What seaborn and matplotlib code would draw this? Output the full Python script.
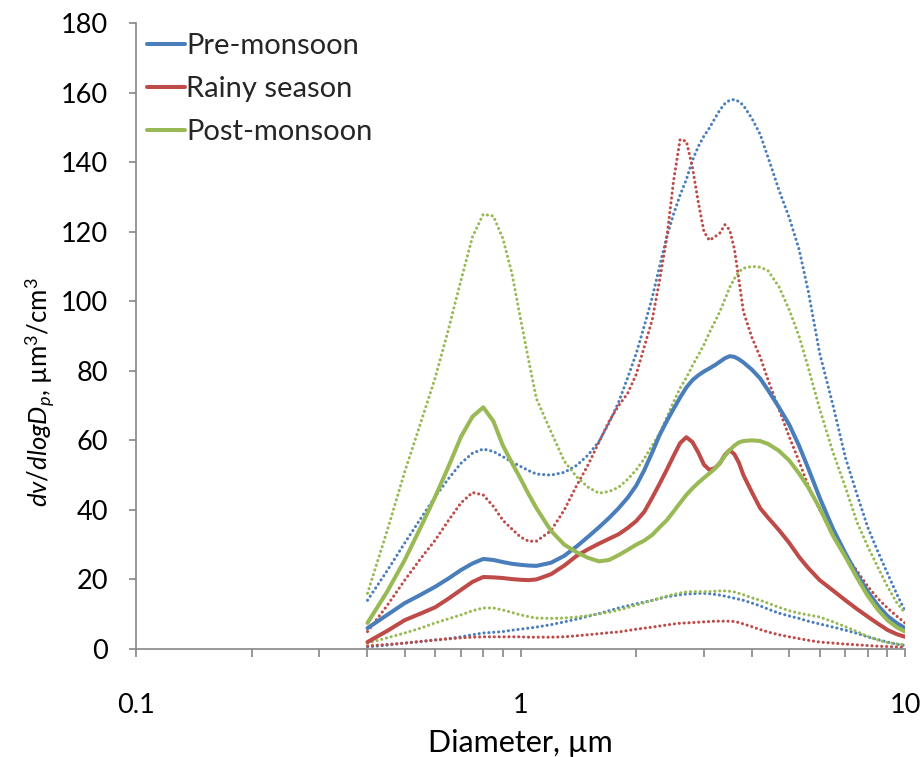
import matplotlib
matplotlib.use("Agg")
import matplotlib.pyplot as plt
import pandas as pd
import seaborn as sns
from matplotlib.ticker import FixedLocator, FixedFormatter, LogLocator, NullFormatter

# Particle diameter (µm) at which each size distribution is tabulated
diameter = [0.4, 0.45, 0.5, 0.55, 0.6, 0.65, 0.7, 0.75, 0.8, 0.85, 0.9, 0.95,
            1.0, 1.05, 1.1,
            1.2, 1.3, 1.4, 1.5, 1.6, 1.7, 1.8, 1.9, 2.0,
            2.1, 2.2, 2.3, 2.4, 2.5, 2.6, 2.7, 2.8, 2.9, 3.0, 3.1, 3.2, 3.3, 3.4, 3.5, 3.6, 3.7, 3.8,
            4.0, 4.2, 4.4, 4.7, 5.0, 5.3, 5.6, 6.0, 6.5, 7.0, 7.5, 8.0, 8.5, 9.0, 9.5, 10.0]

# dv/dlogDp (µm³/cm³): seasonal mean with upper and lower envelopes
pre_mean = [6, 9.8, 13.2, 15.6, 17.9, 20.3, 22.7, 24.6, 25.9, 25.6, 25.0, 24.5,
            24.2, 24.0, 23.9,
            24.8, 26.8, 29.5, 32.3, 35.0, 37.7, 40.5, 43.5, 47.0,
            51.5, 56.5, 61.5, 65.5, 69.0, 72.3, 75.2, 77.3, 78.7, 79.8, 80.7, 81.6, 82.6, 83.6, 84.2, 84.0, 83.3, 82.4,
            80.3, 77.8, 74.5, 69.5, 64.5, 58.5, 52.0, 43.5, 34.5, 27.5, 21.5, 16.5, 12.5, 9.5, 7.5, 6.0]
pre_upper = [14, 22.5, 30.5, 37.5, 43.8, 49.0, 53.4, 56.3, 57.5, 56.8, 55.3, 53.8,
             52.5, 51.3, 50.3,
             50.0, 50.8, 52.8, 55.8, 59.7, 65.0, 71.0, 78.0, 85.0,
             93.0, 101.0, 110.0, 118.5, 125.0, 130.5, 135.0, 140.5, 144.5, 147.5, 149.8, 152.5, 155.0, 156.8, 157.8, 158.0, 157.4, 156.3,
             152.5, 148.0, 141.5, 132.0, 124.0, 115.0, 103.0, 85.0, 70.0, 55.0, 44.5, 35.0, 28.0, 21.8, 16.0, 11.0]
pre_lower = [0.6, 1.1, 1.7, 2.1, 2.6, 3.0, 3.5, 4.1, 4.6, 4.8, 5.0, 5.4,
             5.7, 6.0, 6.3,
             7.0, 7.8, 8.6, 9.4, 10.2, 11.0, 11.8, 12.4, 13.0,
             13.5, 14.0, 14.5, 15.0, 15.3, 15.6, 15.8, 15.9, 16.0, 16.0, 15.9, 15.7, 15.5, 15.2, 14.9, 14.6, 14.3, 14.0,
             13.2, 12.4, 11.5, 10.3, 9.5, 8.8, 8.0, 7.2, 6.3, 5.4, 4.5, 3.5, 2.7, 2.0, 1.4, 1.0]

rainy_mean = [2.0, 5.2, 8.3, 10.2, 12.0, 14.5, 17.0, 19.3, 20.7, 20.6, 20.4, 20.1,
              19.9, 19.8, 20.0,
              21.5, 24.0, 26.8, 28.7, 30.3, 31.7, 33.0, 34.8, 36.8,
              39.5, 43.5, 47.5, 51.5, 55.5, 59.2, 60.9, 59.5, 56.5, 53.0, 51.5, 52.0, 53.4, 55.8, 57.2, 56.0, 53.5, 50.0,
              45.0, 40.5, 37.8, 34.2, 30.5, 26.5, 23.3, 19.8, 16.8, 14.0, 11.5, 9.3, 7.3, 5.5, 4.3, 3.5]
rainy_upper = [5.0, 12.5, 19.8, 26.0, 31.3, 37.0, 42.0, 45.0, 44.3, 41.0, 37.0, 34.5,
               32.2, 31.0, 31.0,
               34.0, 40.0, 47.0, 53.0, 59.5, 65.5, 70.0, 73.5, 79.0,
               87.0, 94.6, 106.0, 118.0, 134.5, 146.5, 146.0, 138.5, 128.5, 120.0, 117.5, 118.5, 119.6, 122.0, 120.5, 115.0, 106.0, 97.0,
               89.5, 84.0, 77.5, 69.0, 61.0, 54.0, 47.0, 40.0, 33.0, 27.0, 22.5, 18.0, 14.5, 11.8, 9.5, 7.5]
rainy_lower = [0.9, 1.3, 1.7, 2.2, 2.6, 2.9, 3.2, 3.4, 3.5, 3.5, 3.5, 3.5,
               3.5, 3.4, 3.4,
               3.4, 3.5, 3.8, 4.1, 4.4, 4.7, 4.9, 5.3, 5.7,
               6.0, 6.3, 6.6, 6.9, 7.2, 7.4, 7.5, 7.6, 7.7, 7.8, 7.9, 8.0, 8.0, 8.0, 8.0, 7.9, 7.6, 7.2,
               6.4, 5.6, 4.9, 4.1, 3.5, 3.0, 2.5, 2.0, 1.7, 1.4, 1.2, 1.0, 0.8, 0.7, 0.6, 0.5]

post_mean = [7.5, 16.5, 25.6, 35.0, 43.8, 52.5, 61.0, 66.8, 69.5, 65.5, 58.5, 53.5,
             49.0, 44.5, 40.5,
             34.0, 30.0, 27.8, 26.2, 25.2, 25.6, 27.0, 28.5, 30.0,
             31.2, 32.8, 35.0, 37.0, 39.5, 42.0, 44.3, 46.2, 47.8, 49.2, 50.5, 51.8, 53.5, 55.5, 57.2, 58.5, 59.4, 59.8,
             60.0, 59.8, 59.0, 57.0, 54.2, 50.5, 46.5, 40.5, 32.5, 26.5, 20.5, 15.3, 11.3, 8.3, 6.3, 5.0]
post_upper = [16.0, 34.0, 51.0, 65.0, 78.0, 92.0, 106.0, 118.5, 125.0, 124.5, 118.0, 108.0,
              95.0, 83.0, 72.0,
              62.5, 54.0, 49.5, 46.5, 44.8, 45.3, 46.5, 48.8, 51.5,
              54.8, 58.5, 62.0, 66.5, 71.0, 75.0, 78.0, 81.5, 84.5, 87.5, 91.0, 94.0, 97.0, 100.5, 104.0, 106.5, 108.5, 109.5,
              110.0, 109.8, 108.8, 104.2, 97.5, 90.0, 81.0, 69.0, 56.5, 46.5, 36.5, 29.5, 23.5, 18.0, 13.5, 10.3]
post_lower = [1.7, 3.2, 4.6, 6.0, 7.5, 8.7, 9.8, 11.0, 11.8, 11.8, 11.2, 10.5,
              9.8, 9.3, 8.9,
              8.8, 8.9, 9.2, 9.6, 10.1, 10.6, 11.2, 11.9, 12.6,
              13.3, 14.0, 14.6, 15.2, 15.7, 16.1, 16.4, 16.5, 16.5, 16.5, 16.5, 16.6, 16.7, 16.7, 16.6, 16.4, 16.0, 15.6,
              14.7, 14.0, 13.2, 12.0, 11.0, 10.3, 9.8, 9.2, 7.8, 6.4, 5.0, 3.6, 2.6, 1.9, 1.5, 1.2]

seasons = ["Pre-monsoon", "Rainy season", "Post-monsoon"]
colors = {"Pre-monsoon": "#4A7EBB", "Rainy season": "#BE4B48", "Post-monsoon": "#98B954"}
series = {
    "Pre-monsoon": (pre_mean, pre_upper, pre_lower),
    "Rainy season": (rainy_mean, rainy_upper, rainy_lower),
    "Post-monsoon": (post_mean, post_upper, post_lower),
}

rows = []
for s in seasons:
    for stat, vals in zip(["mean", "upper", "lower"], series[s]):
        for d, v in zip(diameter, vals):
            rows.append({"season": s, "stat": stat, "diameter": d, "dv": v})
df = pd.DataFrame(rows)

sns.set_theme(style="white")
plt.rcParams["font.family"] = ["Lato", "DejaVu Sans"]
plt.rcParams["mathtext.fontset"] = "custom"
plt.rcParams["mathtext.it"] = "Lato:italic"
plt.rcParams["mathtext.rm"] = "Lato"

fig = plt.figure(figsize=(9.22, 7.57), dpi=100)
ax = fig.add_axes([136 / 922, 1 - 649 / 757, (905 - 136) / 922, (649 - 23) / 757])

dot_style = (0, (0.05, 1.55))
# envelopes first (round dotted), then the seasonal means on top
for s in seasons:
    for stat in ["upper", "lower"]:
        sub = df[(df.season == s) & (df.stat == stat)]
        sns.lineplot(data=sub, x="diameter", y="dv", ax=ax, color=colors[s],
                     lw=2.2, linestyle=dot_style, dash_capstyle="round",
                     legend=False, errorbar=None, sort=True)
for s in seasons:
    sub = df[(df.season == s) & (df.stat == "mean")]
    sns.lineplot(data=sub, x="diameter", y="dv", ax=ax, color=colors[s],
                 lw=2.9, label=s, errorbar=None, sort=True,
                 solid_capstyle="round", solid_joinstyle="round")

ax.set_xscale("log")
ax.set_xlim(0.1, 10)
ax.set_ylim(0, 180)
ax.xaxis.set_major_locator(FixedLocator([0.1, 1, 10]))
ax.xaxis.set_major_formatter(FixedFormatter(["0.1", "1", "10"]))
ax.xaxis.set_minor_locator(LogLocator(base=10, subs=range(2, 10)))
ax.xaxis.set_minor_formatter(NullFormatter())
ax.set_yticks(range(0, 181, 20))

axis_grey = "#868686"
for side in ["top", "right"]:
    ax.spines[side].set_visible(False)
for side in ["left", "bottom"]:
    ax.spines[side].set_color(axis_grey)
    ax.spines[side].set_linewidth(1.2)

ax.tick_params(axis="x", which="both", direction="out", length=6, width=1.2,
               color=axis_grey, labelsize=19.5, pad=26, labelcolor="black", bottom=True)
ax.tick_params(axis="y", which="major", direction="out", length=5, width=1.2,
               color=axis_grey, labelsize=19.5, pad=15, labelcolor="black", left=True)

ax.set_xlabel("Diameter, µm", fontsize=22, color="black")
ax.xaxis.set_label_coords(0.5, -0.127)
ax.set_ylabel(r"$dv/dlogD_p$, µm$^3$/cm$^3$", fontsize=18.5, color="black")
ax.yaxis.set_label_coords(-0.103, 0.41)

leg = ax.legend(loc="upper left", bbox_to_anchor=(0.014, 0.984), frameon=False,
                fontsize=21, handlelength=1.3, handletextpad=0.05,
                labelspacing=0.58, borderpad=0, borderaxespad=0)
for line in leg.get_lines():
    line.set_linewidth(2.9)

fig.savefig("out.png", dpi=100)
